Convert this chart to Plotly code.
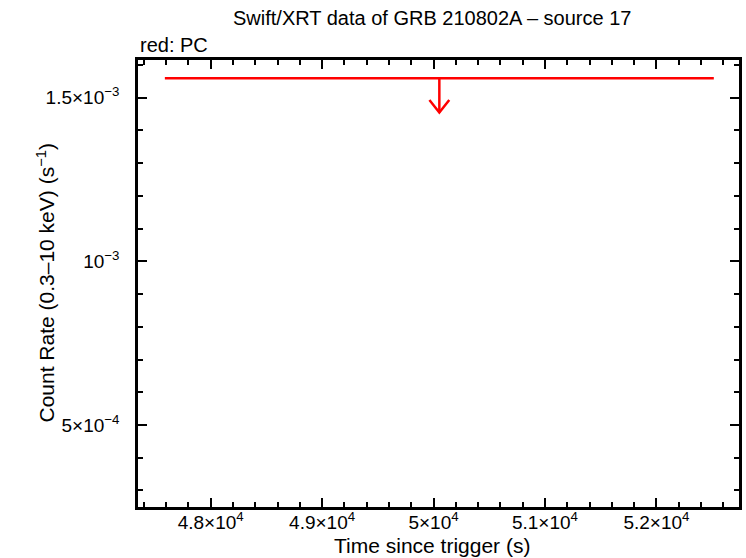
import plotly.graph_objects as go

# Data
ul_time = [50052.0]          # s since trigger (bin centre)
ul_time_err = [2463.0]       # half-width of the bin (s)
ul_rate = [1.559e-3]         # upper limit count rate (s^-1)
ul_arrow_frac = 0.933        # arrow tip as fraction of the limit

x_tickvals = [48000, 49000, 50000, 51000, 52000]
x_ticktext = ["4.8×10<sup>4</sup>", "4.9×10<sup>4</sup>", "5×10<sup>4</sup>",
              "5.1×10<sup>4</sup>", "5.2×10<sup>4</sup>"]
y_tickvals = [5e-4, 1e-3, 1.5e-3]
y_ticktext = ["5×10<sup>−4</sup>", "10<sup>−3</sup>", "1.5×10<sup>−3</sup>"]

x_range = [47348, 52741]
y_range = [2.495e-4, 1.615e-3]

RED = "#ff0000"
FONT = "Liberation Sans, Arial, Helvetica, sans-serif"

fig = go.Figure()

# horizontal bar of the upper limit
fig.add_trace(go.Scatter(
    x=ul_time, y=ul_rate, mode="markers",
    marker=dict(size=1, color=RED),
    error_x=dict(type="data", array=ul_time_err, color=RED, thickness=2.5, width=0),
    showlegend=False, hoverinfo="skip"))

# downward arrow (derived from the data values)
for t, r in zip(ul_time, ul_rate):
    tip = r * ul_arrow_frac
    dx = (x_range[1] - x_range[0]) * 0.0165
    dy = (y_range[1] - y_range[0]) * 0.028
    fig.add_trace(go.Scatter(
        x=[t, t, None, t - dx, t, t + dx],
        y=[r, tip, None, tip + dy, tip, tip + dy],
        mode="lines", line=dict(color=RED, width=2.5),
        showlegend=False, hoverinfo="skip"))

axis_common = dict(
    showgrid=False, zeroline=False, showline=True, linecolor="black", linewidth=2.5,
    mirror="allticks", ticks="inside", ticklen=9, tickwidth=2, tickcolor="black",
    tickfont=dict(family=FONT, size=19, color="black"),
)

fig.update_xaxes(
    range=x_range, tickmode="array", tickvals=x_tickvals, ticktext=x_ticktext,
    minor=dict(dtick=200, tick0=48000, ticks="inside", ticklen=5, tickwidth=2, tickcolor="black"),
    ticklabelstandoff=-4,
    **axis_common)
fig.update_yaxes(
    range=y_range, tickmode="array", tickvals=y_tickvals, ticktext=y_ticktext,
    minor=dict(dtick=1e-4, tick0=0, ticks="inside", ticklen=5, tickwidth=2, tickcolor="black"),
    ticklabelstandoff=12,
    **axis_common)

fig.update_layout(
    width=746, height=558,
    margin=dict(l=138, r=4, t=60, b=51),
    paper_bgcolor="white", plot_bgcolor="white",
    font=dict(family=FONT, color="black"),
    showlegend=False,
    annotations=[
        dict(text="Swift/XRT data of GRB 210802A – source 17", xref="paper", yref="paper",
             x=0.49, y=1.0, yshift=29, xanchor="center", yanchor="bottom", showarrow=False,
             font=dict(size=20, family=FONT)),
        dict(text="red: PC", xref="paper", yref="paper", x=0.0, y=1.0, yshift=2,
             xanchor="left", yanchor="bottom", showarrow=False,
             font=dict(size=20, family=FONT)),
        dict(text="Time since trigger (s)", xref="paper", yref="paper", x=0.49, y=0.0,
             yshift=-25, xanchor="center", yanchor="top", showarrow=False,
             font=dict(size=21, family=FONT)),
        dict(text="Count Rate (0.3–10 keV) (s<sup>−1</sup>)", xref="paper", yref="paper",
             x=0.0, xshift=-93, y=0.5, xanchor="center", yanchor="middle", textangle=-90,
             showarrow=False, font=dict(size=21, family=FONT)),
    ],
)

fig.write_html("out.html", config={"displayModeBar": False},
               post_script="document.body.style.margin='0';")
